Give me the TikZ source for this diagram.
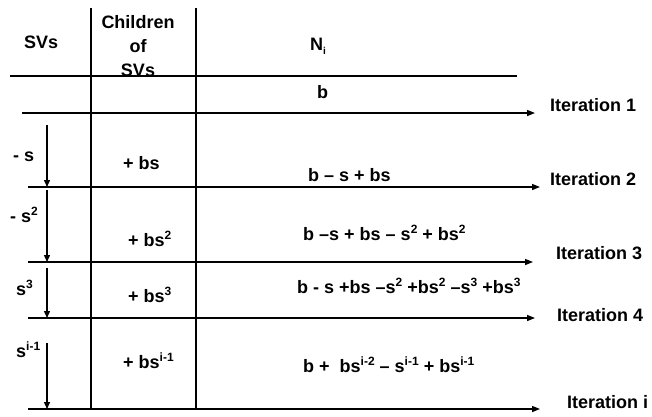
\documentclass[tikz,border=0pt]{standalone}
\usepackage{fontspec}
\setmainfont{Liberation Sans}
\usetikzlibrary{arrows.meta}
\tikzset{
  rule/.style={line width=1.4pt},
  iterarr/.style={line width=1.4pt, -{Triangle[length=8pt,width=6pt]}},
  svarr/.style={line width=1.3pt, -{Triangle[length=7pt,width=6pt]}},
  cell/.style={font=\fontsize{18}{24}\selectfont\bfseries, inner sep=0pt, anchor=base west},
  iterlab/.style={font=\fontsize{18}{20}\selectfont\bfseries, inner sep=0pt, anchor=base west},
}
\newcommand{\pw}[1]{\raisebox{0.38em}{\fontsize{12}{12}\selectfont #1}}

\begin{document}
\begin{tikzpicture}[x=1pt,y=-1pt]
\useasboundingbox (0,0) rectangle (652,416);
% column rules and header rule
\coordinate (c1t) at (91,8);  \coordinate (c1b) at (91,409);
\coordinate (c2t) at (196,8); \coordinate (c2b) at (196,409);
\coordinate (hdl) at (10,76); \coordinate (hdr) at (517,76);
\draw[rule] (c1t) -- (c1b);
\draw[rule] (c2t) -- (c2b);
\draw[rule] (hdl) -- (hdr);
% header
\node[cell] (hsv) at (24,48) {SVs};
\node[cell, anchor=north, align=center] (hch) at (138,15) {Children\\of\\SVs};
\node[cell] (hni) at (310,50) {N\raisebox{-0.25em}{\fontsize{10}{10}\selectfont i}};
% iteration lines
\foreach \n/\y/\xa/\xb/\xl/\ly/\lab in {1/113/22/535/550/111/1, 2/187/28/540/550/185/2, 3/262/28/533/556/259/3, 4/318/28/535/557/321/4, 5/409/28/540/567/408/i}{
  \coordinate (it\n a) at (\xa,\y);
  \coordinate (it\n b) at (\xb,\y);
  \draw[iterarr] (it\n a) -- (it\n b);
  \node[iterlab] (lab\n) at (\xl,\ly) {Iteration \lab};
}
% SV arrows
\foreach \n/\ya/\yb in {2/125/187, 3/190/262, 4/268/318, 5/343/409}{
  \coordinate (sv\n a) at (47,\ya);
  \coordinate (sv\n b) at (47,\yb);
  \draw[svarr] (sv\n a) -- (sv\n b);
}
% rows
\node[cell] (n1) at (317,98) {b};
\node[cell] (sv2) at (13,161) {- s};
\node[cell] (ch2) at (123,169) {+ bs};
\node[cell] (n2) at (308,181) {b – s + bs};
\node[cell] (sv3) at (10,222) {- s\pw{2}};
\node[cell] (ch3) at (128,246) {+ bs\pw{2}};
\node[cell] (n3) at (303,240) {b –s + bs – s\pw{2} + bs\pw{2}};
\node[cell] (sv4) at (16,295) {s\pw{3}};
\node[cell] (ch4) at (128,302) {+ bs\pw{3}};
\node[cell] (n4) at (297,293) {b - s +bs –s\pw{2} +bs\pw{2} –s\pw{3} +bs\pw{3}};
\node[cell] (sv5) at (16,357) {s\pw{i-1}};
\node[cell] (ch5) at (123,368) {+ bs\pw{i-1}};
\node[cell] (n5) at (303,372) {b + \ bs\pw{i-2} – s\pw{i-1} + bs\pw{i-1}};
\end{tikzpicture}
\end{document}
